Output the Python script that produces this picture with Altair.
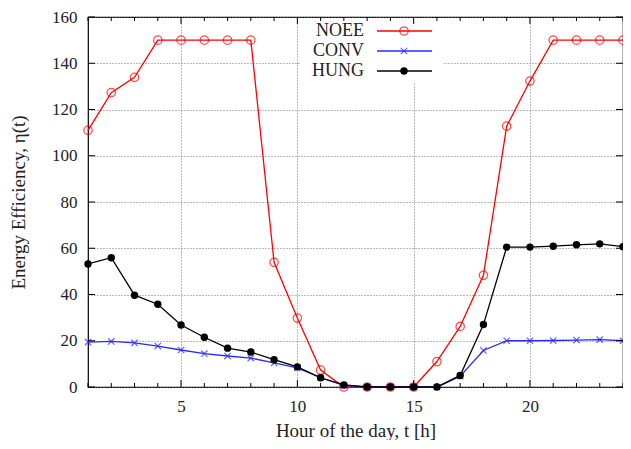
import altair as alt
import pandas as pd

hours = list(range(1, 25))
noee = [111, 127.3, 133.9, 150, 150, 150, 150, 150, 53.9, 29.8, 7.3, 0, 0, 0, 0,
        11, 26.2, 48.3, 112.8, 132.3, 150, 150, 150, 150]
conv = [19.4, 19.7, 19.1, 17.7, 16, 14.4, 13.4, 12.5, 10.4, 8.3, 4, 0.7, 0, 0, 0, 0,
        4.7, 15.8, 20, 20, 20.1, 20.3, 20.5, 20]
hung = [53.2, 55.9, 39.7, 35.8, 26.8, 21.5, 16.8, 15.1, 11.8, 8.7, 4, 0.9, 0, 0, 0, 0,
        5, 27, 60.5, 60.5, 60.9, 61.5, 61.9, 60.7]
series_names = ["NOEE", "CONV", "HUNG"]
series_colors = ["#ff0000", "#2a2aff", "#000000"]
x_label_values = [5, 10, 15, 20]
y_tick_values = list(range(0, 161, 20))

W, H = 535, 370
FONT = "Liberation Serif"
XSHAPE = "M-1,-1L1,1M-1,1L1,-1"

df = pd.DataFrame({
    "hour": hours * 3,
    "value": noee + conv + hung,
    "series": ["NOEE"] * 24 + ["CONV"] * 24 + ["HUNG"] * 24,
})

xscale = alt.Scale(domain=[1, 24], nice=False, zero=False)
yscale = alt.Scale(domain=[0, 160], nice=False)

xaxis = alt.Axis(values=x_label_values, grid=True, gridDash=[1, 2], gridColor="#777777",
                 gridWidth=1, ticks=False, domain=False, labelFont=FONT, labelFontSize=17,
                 labelColor="#222222", labelPadding=11, title="Hour of the day, t [h]",
                 titleFont=FONT, titleFontSize=19, titleFontWeight="normal",
                 titleColor="#222222", titlePadding=7)
yaxis = alt.Axis(values=y_tick_values, grid=True, gridDash=[1, 2], gridColor="#777777",
                 gridWidth=1, ticks=False, domain=False, labelFont=FONT, labelFontSize=17,
                 labelColor="#222222", labelPadding=11, title="Energy Efficiency, η(t)",
                 titleFont=FONT, titleFontSize=19, titleFontWeight="normal",
                 titleColor="#222222", titlePadding=23)

X = alt.X("hour:Q", scale=xscale, axis=xaxis)
Y = alt.Y("value:Q", scale=yscale, axis=yaxis)

layers = []

# base layer carrying axes/grid (invisible)
layers.append(alt.Chart(df).mark_point(opacity=0).encode(x=X, y=Y))

# white box behind legend
box = alt.Chart(pd.DataFrame({"a": [0]})).mark_rect(color="white").encode(
    x=alt.value(212), x2=alt.value(355), y=alt.value(1), y2=alt.value(66))
layers.append(box)

for name, col in zip(series_names, series_colors):
    sub = df[df.series == name]
    layers.append(alt.Chart(sub).mark_line(color=col, strokeWidth=1.3).encode(x=X, y=Y))
    if name == "NOEE":
        pt = alt.Chart(sub).mark_point(shape="circle", filled=False, color=col, size=70, strokeWidth=1.3)
    elif name == "CONV":
        pt = alt.Chart(sub).mark_point(shape=XSHAPE, filled=False, color=col, size=40, strokeWidth=1.3)
    else:
        pt = alt.Chart(sub).mark_point(shape="circle", filled=True, color=col, size=55, opacity=1)
    layers.append(pt.encode(x=X, y=Y))

# inward ticks
tick_df = pd.DataFrame({"hour": hours, "major": [h in x_label_values for h in hours]})
for major, ln in [(False, 4), (True, 7)]:
    d = tick_df[tick_df.major == major]
    layers.append(alt.Chart(d).mark_rule(color="black", strokeWidth=1).encode(
        x=X, y=alt.value(H), y2=alt.value(H - ln)))
    layers.append(alt.Chart(d).mark_rule(color="black", strokeWidth=1).encode(
        x=X, y=alt.value(0), y2=alt.value(ln)))
ytick_df = pd.DataFrame({"value": y_tick_values})
layers.append(alt.Chart(ytick_df).mark_rule(color="black").encode(
    y=Y, x=alt.value(0), x2=alt.value(7)))
layers.append(alt.Chart(ytick_df).mark_rule(color="black").encode(
    y=Y, x=alt.value(W - 7), x2=alt.value(W)))

# legend (key to the right of label)
one = pd.DataFrame({"a": [0]})
for i, (name, col) in enumerate(zip(series_names, series_colors)):
    yy = 14 + 20 * i
    layers.append(alt.Chart(one).mark_text(align="right", baseline="middle", font=FONT,
                                           fontSize=18, color="#222222").encode(
        x=alt.value(276), y=alt.value(yy), text=alt.value(name)))
    layers.append(alt.Chart(one).mark_rule(color=col, strokeWidth=1.3).encode(
        x=alt.value(289), x2=alt.value(344), y=alt.value(yy)))
    if name == "NOEE":
        m = alt.Chart(one).mark_point(shape="circle", filled=False, color=col, size=70, strokeWidth=1.3)
    elif name == "CONV":
        m = alt.Chart(one).mark_point(shape=XSHAPE, filled=False, color=col, size=40, strokeWidth=1.3)
    else:
        m = alt.Chart(one).mark_point(shape="circle", filled=True, color=col, size=55, opacity=1)
    layers.append(m.encode(x=alt.value(316), y=alt.value(yy)))

chart = alt.layer(*layers).properties(
    width=W, height=H,
    autosize=alt.AutoSizeParams(type="none"),
    padding={"left": 80, "top": 9, "right": 0, "bottom": 53},
    background="white",
).configure_view(stroke="black", strokeWidth=1.2, clip=False)

chart.save("out.html", embed_options={"renderer": "svg", "actions": False})
